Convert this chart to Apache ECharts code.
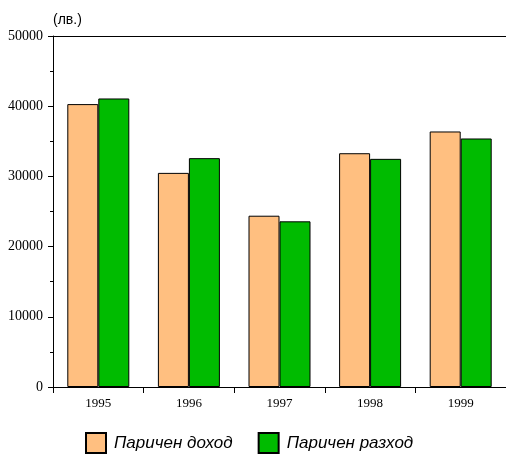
<!DOCTYPE html>
<html>
<head>
<meta charset="utf-8">
<script src="https://cdn.jsdelivr.net/npm/echarts@6/dist/echarts.min.js"></script>
<style>
  html, body { margin: 0; padding: 0; background: #fff; }
  #chart { width: 506px; height: 454px; }
</style>
</head>
<body>
<div id="chart"></div>
<script>
// Години
const years = ['1995', '1996', '1997', '1998', '1999'];
// Паричен доход и паричен разход (лв.)
const incomeValues = [40300, 30500, 24400, 33300, 36400];
const expenseValues = [41100, 32600, 23600, 32500, 35400];
const seriesNames = ['Паричен доход', 'Паричен разход'];
const unitLabel = '(лв.)';

const chart = echarts.init(document.getElementById('chart'), null, { renderer: 'canvas' });

const serifFont = 'Liberation Serif, Times New Roman, serif';
const sansFont = 'Liberation Sans, Arial, sans-serif';

chart.setOption({
  backgroundColor: '#fff',
  animation: false,
  grid: { left: 53, right: 0, top: 36, bottom: 67 },
  legend: {
    left: 85,
    top: 432,
    padding: 0,
    itemWidth: 20,
    itemHeight: 20,
    itemGap: 25,
    icon: 'rect',
    textStyle: { fontFamily: sansFont, fontSize: 17, fontStyle: 'italic', color: '#000', padding: [2, 0, 0, 3] },
    data: seriesNames
  },
  xAxis: [
    {
      type: 'category',
      data: years,
      boundaryGap: true,
      axisLine: { lineStyle: { color: '#000', width: 1 } },
      axisTick: { show: true, length: 6, alignWithLabel: false, lineStyle: { color: '#000' } },
      axisLabel: { fontFamily: serifFont, fontSize: 13, color: '#000', margin: 10 }
    },
    {
      type: 'category',
      data: years,
      position: 'top',
      axisLine: { show: true, lineStyle: { color: '#000', width: 1 } },
      axisTick: { show: false },
      axisLabel: { show: false }
    }
  ],
  yAxis: {
    type: 'value',
    min: 0,
    max: 50000,
    interval: 10000,
    name: unitLabel,
    nameLocation: 'end',
    nameGap: 16,
    nameTextStyle: { fontFamily: sansFont, fontSize: 14, color: '#000', align: 'left', verticalAlign: 'middle' },
    axisLine: { show: true, lineStyle: { color: '#000', width: 1 } },
    axisTick: { show: true, length: 5, lineStyle: { color: '#000' } },
    minorTick: { show: true, splitNumber: 2, length: 3, lineStyle: { color: '#000' } },
    splitLine: { show: false },
    axisLabel: {
      fontFamily: serifFont,
      fontSize: 14,
      color: '#000',
      margin: 10,
      formatter: (v) => String(v)
    }
  },
  series: [
    {
      name: seriesNames[0],
      type: 'bar',
      xAxisIndex: 0,
      data: incomeValues,
      barWidth: 31,
      barGap: '0%',
      itemStyle: { color: '#FFBF80', borderColor: '#000', borderWidth: 1 }
    },
    {
      name: seriesNames[1],
      type: 'bar',
      xAxisIndex: 0,
      data: expenseValues,
      barWidth: 31,
      barGap: '0%',
      itemStyle: { color: '#00BB00', borderColor: '#000', borderWidth: 1 }
    }
  ]
});
</script>
</body>
</html>
